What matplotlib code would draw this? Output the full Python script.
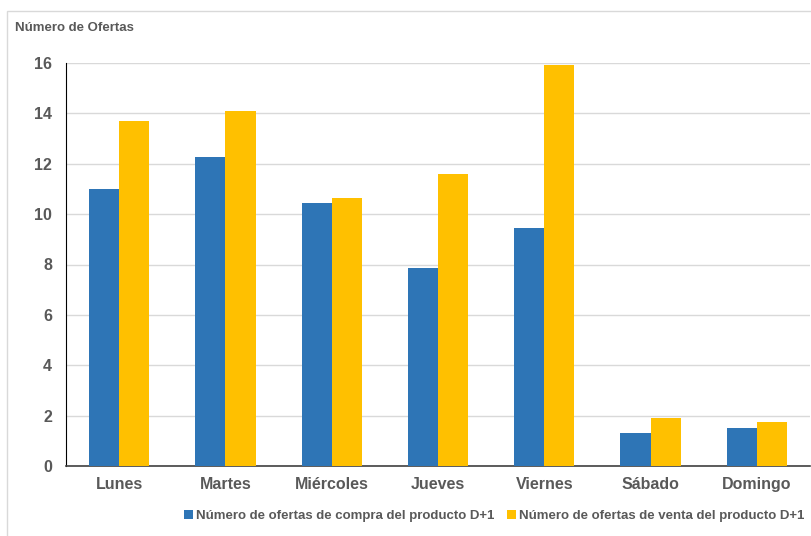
import numpy as np
import matplotlib
matplotlib.use('agg')
from matplotlib import pyplot as plt
from matplotlib.patches import Rectangle

plt.rcParams['font.family'] = ['Liberation Sans', 'DejaVu Sans']

dias = ['Lunes', 'Martes', 'Miércoles', 'Jueves', 'Viernes', 'Sábado', 'Domingo']
compra = [11.0, 12.26, 10.44, 7.86, 9.46, 1.31, 1.51]
venta = [13.69, 14.09, 10.63, 11.59, 15.91, 1.90, 1.75]
etiqueta_compra = 'Número de ofertas de compra del producto D+1'
etiqueta_venta = 'Número de ofertas de venta del producto D+1'

gris = '#595959'
azul = '#2E75B6'
oro = '#FFC000'

fig = plt.figure(figsize=(8.11, 5.36), dpi=100)
ax = fig.add_axes([66 / 811, 70 / 536, 744 / 811, 403 / 536])

x = np.arange(len(dias))
ancho = 0.283
ax.bar(x - ancho / 2, compra, ancho, color=azul, label=etiqueta_compra, zorder=3)
ax.bar(x + ancho / 2, venta, ancho, color=oro, label=etiqueta_venta, zorder=3)

ax.set_xlim(-0.5, len(dias) - 0.5)
ax.set_ylim(0, 16)
ax.set_yticks(np.arange(0, 17, 2))
ax.yaxis.grid(True, color='#D9D9D9', linewidth=1, zorder=0)
ax.set_axisbelow(True)

ax.set_xticks(x)
ax.set_xticklabels(dias, fontsize=11.5, fontweight='bold', color=gris)
for t in ax.get_yticklabels():
    t.set_fontsize(11.5)
    t.set_fontweight('bold')
    t.set_color(gris)
ax.tick_params(axis='both', length=0)
ax.tick_params(axis='x', pad=8)
ax.tick_params(axis='y', pad=10)

for s in ['top', 'right']:
    ax.spines[s].set_visible(False)
ax.spines['left'].set_color('black')
ax.spines['bottom'].set_color('#404040')
ax.spines['bottom'].set_linewidth(1.2)

fig.text(15 / 811, 1 - 28 / 536, 'Número de Ofertas', fontsize=9.5, fontweight='bold',
         color=gris, va='center', ha='left')

fig.legend(loc='center', bbox_to_anchor=(494 / 811, 1 - 516 / 536), ncol=2, frameon=False,
           prop={'size': 9.5, 'weight': 'bold'}, labelcolor=gris, handlelength=0.7,
           handleheight=0.7, handletextpad=0.2, columnspacing=1.0, borderaxespad=0)

# marco exterior del gráfico
fig.patches.append(Rectangle((7 / 811, -0.1), 1.1, 1 - 11 / 536 + 0.1,
                             transform=fig.transFigure, fill=False,
                             edgecolor='#D9D9D9', linewidth=1))

fig.savefig('out.png', dpi=100)
